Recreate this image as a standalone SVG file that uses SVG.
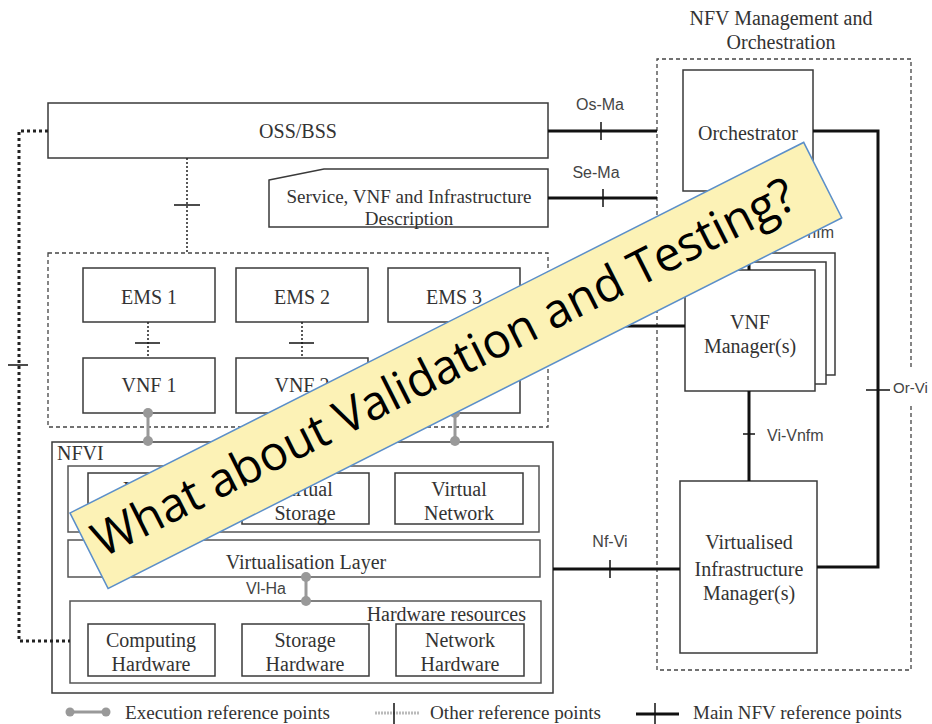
<svg xmlns="http://www.w3.org/2000/svg" width="932" height="724" viewBox="0 0 932 724">
<style>
.box{fill:#fff;stroke:#3a3a3a;stroke-width:1.5}
.cont{fill:none;stroke:#555;stroke-width:1.5}
.dash{fill:none;stroke:#444;stroke-width:1.3;stroke-dasharray:4 3}
.t{font-family:"Liberation Serif","Times New Roman",serif;font-size:20px;fill:#333;text-anchor:middle}
.s{font-family:"Liberation Sans",Arial,sans-serif;font-size:16px;fill:#444;text-anchor:middle}
.lg{font-size:19px;text-anchor:start}
.main{stroke:#111;stroke-width:3;fill:none}
.tick{stroke:#111;stroke-width:1.5}
.dot{stroke:#222;stroke-width:1.5;stroke-dasharray:2 2;fill:none}
.exec{stroke:#999;stroke-width:3}
.ec{fill:#999}
</style>

<g id="mano">
<text class="t" x="781" y="25">NFV Management and</text>
<text class="t" x="781" y="49">Orchestration</text>
<path class="dash" d="M911,367 V59 H657 V670 H911 V403"/>
</g>

<g id="oss"><rect class="box" x="48" y="103" width="500" height="55"/><text class="t" x="298" y="138">OSS/BSS</text></g>

<g id="service"><path class="box" d="M269,180 L324,169 H548 V227 H269 Z"/>
<text class="t" x="409" y="203" style="font-size:19px" textLength="245" lengthAdjust="spacingAndGlyphs">Service, VNF and Infrastructure</text>
<text class="t" x="409" y="225" style="font-size:19px">Description</text></g>

<g id="orchestrator"><rect class="box" x="683" y="70" width="130" height="121"/><text class="t" x="748" y="140">Orchestrator</text></g>

<g id="vnf-domain"><rect class="dash" x="48" y="253" width="500" height="174"/></g>
<g id="ems1"><rect class="box" x="83" y="268" width="132" height="54"/><text class="t" x="149" y="304">EMS 1</text></g>
<g id="ems2"><rect class="box" x="236" y="268" width="132" height="54"/><text class="t" x="302" y="304">EMS 2</text></g>
<g id="ems3"><rect class="box" x="388" y="268" width="132" height="54"/><text class="t" x="454" y="304">EMS 3</text></g>
<g id="vnf1"><rect class="box" x="83" y="358" width="132" height="55"/><text class="t" x="149" y="392">VNF 1</text></g>
<g id="vnf2"><rect class="box" x="236" y="358" width="132" height="55"/><text class="t" x="302" y="392">VNF 2</text></g>
<g id="vnf3"><rect class="box" x="388" y="358" width="132" height="55"/><text class="t" x="454" y="392">VNF 3</text></g>

<g id="vnfm">
<rect class="box" x="705" y="253" width="130" height="122"/>
<rect class="box" x="695" y="262" width="131" height="122"/>
<rect class="box" x="685" y="270" width="130" height="121"/>
<text class="t" x="750" y="329">VNF</text>
<text class="t" x="750" y="353">Manager(s)</text>
</g>

<g id="vim"><rect class="box" x="680" y="481" width="137" height="172"/>
<text class="t" x="749" y="549">Virtualised</text>
<text class="t" x="749" y="576">Infrastructure</text>
<text class="t" x="749" y="600">Manager(s)</text></g>

<g id="nfvi">
<rect class="box" x="52" y="442" width="501" height="251"/>
<text class="t" x="57" y="460" style="text-anchor:start">NFVI</text>
<rect class="cont" x="68" y="466" width="471" height="66"/>
</g>
<g id="vcompute"><rect class="box" x="88" y="473" width="127" height="51"/><text class="t" x="151" y="496">Virtual</text><text class="t" x="151" y="520">Computing</text></g>
<g id="vstorage"><rect class="box" x="242" y="473" width="127" height="51"/><text class="t" x="305" y="496">Virtual</text><text class="t" x="305" y="520">Storage</text></g>
<g id="vnetwork"><rect class="box" x="395" y="473" width="128" height="51"/><text class="t" x="459" y="496">Virtual</text><text class="t" x="459" y="520">Network</text></g>
<g id="vlayer"><rect class="cont" x="68" y="540" width="472" height="37"/><text class="t" x="306" y="569">Virtualisation Layer</text></g>
<g id="hwres"><rect class="cont" x="70" y="601" width="471" height="82"/><text class="t" x="526" y="621" style="text-anchor:end">Hardware resources</text></g>
<g id="hwcompute"><rect class="box" x="88" y="624" width="127" height="52"/><text class="t" x="151" y="647">Computing</text><text class="t" x="151" y="671">Hardware</text></g>
<g id="hwstorage"><rect class="box" x="242" y="624" width="127" height="52"/><text class="t" x="305" y="647">Storage</text><text class="t" x="305" y="671">Hardware</text></g>
<g id="hwnetwork"><rect class="box" x="396" y="624" width="128" height="52"/><text class="t" x="460" y="647">Network</text><text class="t" x="460" y="671">Hardware</text></g>

<g id="connectors">
<line class="main" x1="548" y1="131" x2="657" y2="131"/>
<line class="tick" x1="601" y1="122" x2="601" y2="140"/>
<text class="s" x="600" y="110">Os-Ma</text>
<line class="main" x1="548" y1="198" x2="657" y2="198"/>
<line class="tick" x1="603" y1="189" x2="603" y2="207"/>
<text class="s" x="596" y="178">Se-Ma</text>
<path class="main" d="M813,131 H878 V567 H817"/>
<line class="tick" x1="866" y1="390" x2="890" y2="390"/>
<text class="s" x="893" y="393" style="text-anchor:start;font-size:15px">Or-Vi</text>
<line class="main" x1="749" y1="191" x2="749" y2="270"/>
<line class="tick" x1="742" y1="228" x2="756" y2="228"/>
<text class="s" x="834" y="238" style="text-anchor:end">Or-Vnfm</text>
<line class="main" x1="749" y1="391" x2="749" y2="481"/>
<line class="tick" x1="743" y1="434" x2="755" y2="434"/>
<text class="s" x="767" y="441" style="text-anchor:start">Vi-Vnfm</text>
<line class="main" x1="548" y1="326" x2="685" y2="326"/>
<line class="tick" x1="600" y1="317" x2="600" y2="335"/>
<text class="s" x="600" y="312">Ve-Vnfm</text>
<line class="main" x1="553" y1="569" x2="680" y2="569"/>
<line class="tick" x1="610" y1="560" x2="610" y2="578"/>
<text class="s" x="610" y="547">Nf-Vi</text>
<path d="M48,131 H19 V641 H70" fill="none" stroke="#222" stroke-width="3" stroke-dasharray="3 3"/>
<line class="tick" x1="8" y1="365" x2="28" y2="365"/>
<line class="dot" x1="187" y1="158" x2="187" y2="253"/>
<line class="tick" x1="174" y1="205" x2="200" y2="205"/>
<line class="dot" x1="148" y1="322" x2="148" y2="358"/>
<line class="tick" x1="135" y1="343" x2="160" y2="343"/>
<line class="dot" x1="302" y1="322" x2="302" y2="358"/>
<line class="tick" x1="289" y1="343" x2="314" y2="343"/>
<line class="dot" x1="454" y1="322" x2="454" y2="358"/>
<line class="tick" x1="441" y1="343" x2="466" y2="343"/>
<line class="exec" x1="148" y1="413" x2="148" y2="441"/><circle class="ec" cx="148" cy="413" r="5"/><circle class="ec" cx="148" cy="441" r="5"/>
<line class="exec" x1="302" y1="413" x2="302" y2="441"/><circle class="ec" cx="302" cy="413" r="5"/><circle class="ec" cx="302" cy="441" r="5"/>
<line class="exec" x1="455" y1="413" x2="455" y2="441"/><circle class="ec" cx="455" cy="413" r="5"/><circle class="ec" cx="455" cy="441" r="5"/>
<line class="exec" x1="306" y1="577" x2="306" y2="601"/><circle class="ec" cx="306" cy="577" r="5"/><circle class="ec" cx="306" cy="601" r="5"/>
<text class="s" x="266" y="594">Vl-Ha</text>
</g>

<g id="legend">
<line class="exec" x1="70" y1="712" x2="106" y2="712"/><circle class="ec" cx="70" cy="712" r="4.5"/><circle class="ec" cx="106" cy="712" r="4.5"/>
<text class="t lg" x="125" y="719" textLength="205" lengthAdjust="spacingAndGlyphs">Execution reference points</text>
<line x1="375" y1="713" x2="420" y2="713" stroke="#bbb" stroke-width="3" stroke-dasharray="2 1"/>
<line class="tick" x1="394" y1="703" x2="394" y2="724"/>
<text class="t lg" x="430" y="719" textLength="171" lengthAdjust="spacingAndGlyphs">Other reference points</text>
<line class="main" x1="636" y1="714" x2="679" y2="714"/>
<line class="tick" x1="655" y1="703" x2="655" y2="724"/>
<text class="t lg" x="693" y="719" textLength="209" lengthAdjust="spacingAndGlyphs">Main NFV reference points</text>
</g>

<g id="banner" transform="translate(70,513) rotate(-26.8)">
<rect x="0" y="0" width="822" height="84.5" fill="#FCF2B6" stroke="#5B8FC9" stroke-width="1.5"/>
<text x="9" y="55" font-family="'Open Sans','Noto Sans',sans-serif" font-size="48" fill="#000" textLength="780" lengthAdjust="spacingAndGlyphs">What about Validation and Testing?</text>
</g>
</svg>
